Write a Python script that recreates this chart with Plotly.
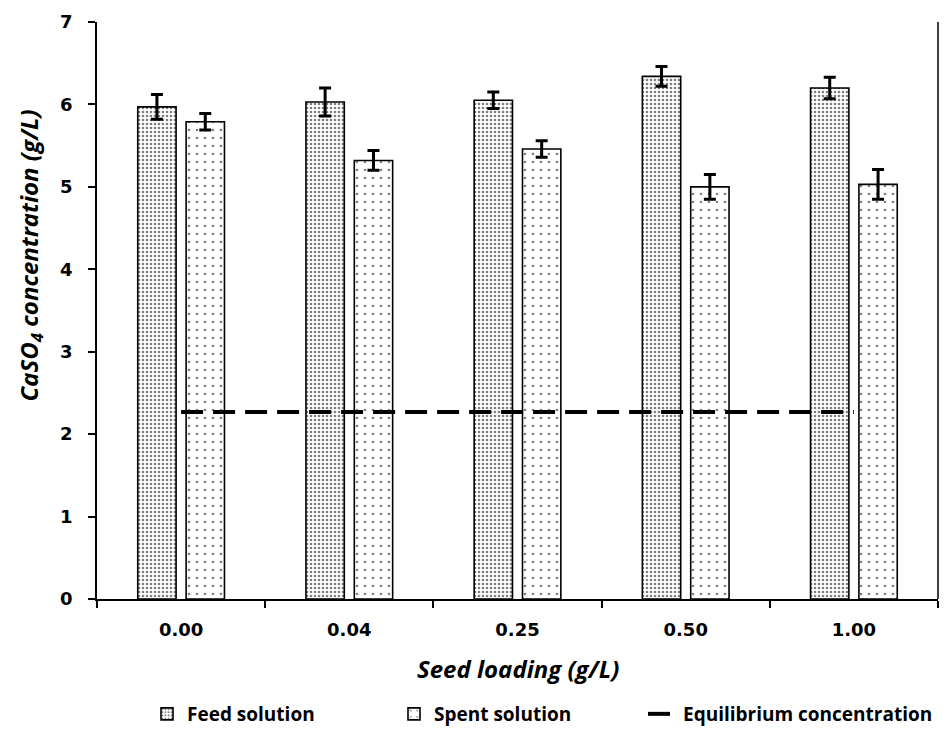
import plotly.graph_objects as go

# Seed loading levels (g/L) shown as categories
seed_loading = ["0.00", "0.04", "0.25", "0.50", "1.00"]

# CaSO4 concentration (g/L) with standard deviations
feed_conc = [5.97, 6.03, 6.05, 6.34, 6.20]
feed_err = [0.15, 0.17, 0.10, 0.12, 0.13]
spent_conc = [5.79, 5.32, 5.46, 5.00, 5.03]
spent_err = [0.10, 0.12, 0.10, 0.15, 0.18]

# Equilibrium (saturation) concentration of CaSO4
equilibrium_conc = [2.27, 2.27, 2.27, 2.27, 2.27]

y_ticks = [0, 1, 2, 3, 4, 5, 6, 7]

tick_font = dict(family="DejaVu Sans", size=18, color="black", weight="bold")
legend_font = dict(family="Open Sans", size=19, color="black", weight="bold")
title_font = dict(family="Open Sans", size=24, color="black", weight="bold")

fig = go.Figure()

fig.add_trace(go.Bar(
    name="Feed solution",
    legend="legend",
    x=seed_loading,
    y=feed_conc,
    error_y=dict(type="data", array=feed_err, visible=True,
                 color="black", thickness=3, width=6),
    marker=dict(
        color="white",
        line=dict(color="black", width=1.6),
        pattern=dict(shape=".", size=4, solidity=0.35,
                     fgcolor="black", bgcolor="white", fillmode="overlay"),
    ),
))

fig.add_trace(go.Bar(
    name="Spent solution",
    legend="legend2",
    x=seed_loading,
    y=spent_conc,
    error_y=dict(type="data", array=spent_err, visible=True,
                 color="black", thickness=3, width=6),
    marker=dict(
        color="white",
        line=dict(color="black", width=1.6),
        pattern=dict(shape=".", size=8, solidity=0.08,
                     fgcolor="black", bgcolor="white", fillmode="overlay"),
    ),
))

fig.add_trace(go.Scatter(
    name="Equilibrium concentration",
    legend="legend3",
    x=seed_loading,
    y=equilibrium_conc,
    mode="lines",
    line=dict(color="black", width=4, dash="22px,10px"),
))

# One legend box per entry so each sits at its own place along the bottom
legend_common = dict(
    orientation="h",
    xref="container", yref="container",
    xanchor="left", yanchor="bottom",
    y=0.0,
    font=legend_font,
    bgcolor="rgba(0,0,0,0)",
)

fig.update_layout(
    width=946,
    height=733,
    margin=dict(l=97, r=8, t=22, b=134, autoexpand=False),
    paper_bgcolor="white",
    plot_bgcolor="white",
    barmode="group",
    bargap=0.425,
    bargroupgap=0.207,
    showlegend=True,
    legend=dict(x=147 / 946, **legend_common),
    legend2=dict(x=394 / 946, **legend_common),
    legend3=dict(x=643 / 946, **legend_common),
    xaxis=dict(
        type="category",
        showline=True, linecolor="black", linewidth=1.5,
        ticks="outside", tickson="boundaries", ticklen=7,
        tickwidth=1.5, tickcolor="black",
        tickfont=tick_font,
        ticklabelstandoff=14,
        showgrid=False, zeroline=False,
    ),
    yaxis=dict(
        range=[0, 7],
        tickvals=y_ticks,
        showline=True, linecolor="black", linewidth=1.5,
        ticks="outside", ticklen=7, tickwidth=1.5, tickcolor="black",
        tickfont=tick_font,
        ticklabelstandoff=12,
        showgrid=False, zeroline=False,
    ),
    shapes=[
        dict(type="line", xref="paper", yref="paper",
             x0=1, x1=1, y0=0, y1=1,
             line=dict(color="black", width=1.5)),
    ],
    annotations=[
        dict(text="<i>Seed loading (g/L)</i>",
             xref="paper", yref="paper", x=0.5, y=-0.1206,
             xanchor="center", yanchor="middle", showarrow=False,
             font=title_font),
        dict(text="<i>CaSO<sub>4</sub> concentration (g/L)</i>",
             xref="paper", yref="paper", x=-0.0793, y=0.596,
             xanchor="center", yanchor="middle", showarrow=False,
             textangle=-90,
             font=title_font),
    ],
)

fig.write_html("out.html")
